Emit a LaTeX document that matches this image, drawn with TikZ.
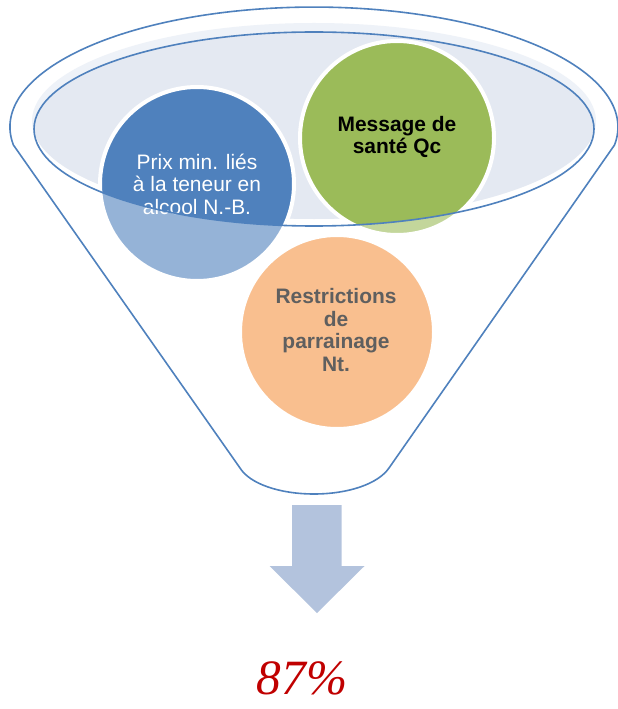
\documentclass[tikz,border=0pt]{standalone}
\usepackage{fontspec}
\setmainfont{Liberation Sans}
\newfontfamily\pctfont{Liberation Serif}
\definecolor{funnelblue}{HTML}{4F81BD}
\definecolor{bandlight}{HTML}{EEF2F8}
\definecolor{bandfill}{HTML}{E4E9F2}
\definecolor{bluedark}{HTML}{4F81BD}
\definecolor{bluelight}{HTML}{95B3D7}
\definecolor{greendark}{HTML}{9BBB59}
\definecolor{greenlight}{HTML}{C3D69B}
\definecolor{orangefill}{HTML}{F9BF8F}
\definecolor{graytext}{HTML}{5F5F5F}
\definecolor{arrowfill}{HTML}{B3C3DD}
\definecolor{pctred}{HTML}{C00000}
\tikzset{
  funnelline/.style={draw=funnelblue, line width=1.2pt},
  ring/.style={draw=white, line width=3pt},
  circtext/.style={align=center, font=\fontsize{15.7}{16.8}\selectfont, inner sep=0pt},
}
\begin{document}
\begin{tikzpicture}[x=0.75pt,y=-0.75pt]
\useasboundingbox (0,0) rectangle (617,709);
% funnel outline
\draw[funnelline, fill=white] (13.4,145) arc[start angle=171.4, end angle=368.6, x radius=304, y radius=120]
  -- (389,468) .. controls (378,484) and (348,494) .. (314,494)
  .. controls (280,494) and (250,484) .. (240,468) -- cycle;
% inner fill (light band + darker part)
\fill[bandlight] (314,121) ellipse [x radius=282, y radius=98];
\begin{scope}
  \clip (314,129) ellipse [x radius=280, y radius=97];
  \fill[bandfill] (314,121) ellipse [x radius=282, y radius=98];
\end{scope}
% circles
\fill[bluelight] (197,184) circle [radius=96];
\fill[greenlight] (397,138) circle [radius=96];
\fill[orangefill] (337,332) circle [radius=96];
\begin{scope}
  \clip (314,129) ellipse [x radius=280, y radius=97];
  \fill[bluedark] (197,184) circle [radius=96];
  \fill[greendark] (397,138) circle [radius=96];
\end{scope}
\draw[ring] (197,184) circle [radius=97];
\draw[ring] (397,138) circle [radius=97];
\draw[ring] (337,332) circle [radius=97];
% texts
\node[circtext, text=white] (prix) at (197,184) {Prix min. liés\\à la teneur en\\alcool N.-B.};
\node[circtext, text=black, font=\fontsize{15.7}{16.8}\selectfont\bfseries] (msg) at (397,137) {Message de\\santé Qc};
\node[circtext, text=graytext, font=\fontsize{15.7}{16.8}\selectfont\bfseries] (restr) at (336,330) {Restrictions\\de\\parrainage\\Nt.};
% inner ellipse outline on top
\draw[funnelline] (314,129) ellipse [x radius=280, y radius=97];
% arrow
\fill[arrowfill] (292,505) -- (341.5,505) -- (341.5,566) -- (364.5,566) -- (317,613) -- (269.5,566) -- (292,566) -- cycle;
% result
\node[text=pctred, inner sep=0pt, anchor=base] (pct) at (302,694)
  {\pctfont\itshape\fontsize{37}{37}\selectfont 87\%};
\end{tikzpicture}
\end{document}
